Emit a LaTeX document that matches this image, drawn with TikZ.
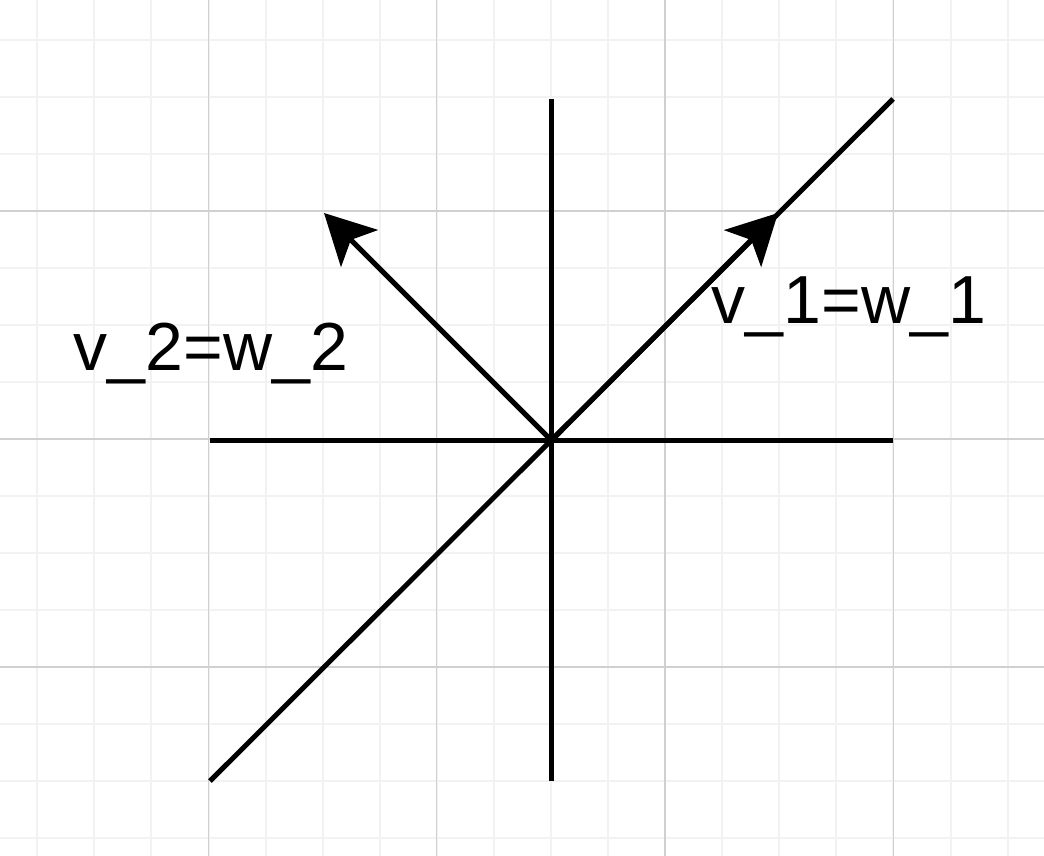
\documentclass[tikz,border=0pt]{standalone}
\usepackage{fontspec}
\setmainfont{Liberation Sans}
\usetikzlibrary{arrows.meta}
\begin{document}
\begin{tikzpicture}[x=1pt,y=-1pt,
  minorgrid/.style={draw={rgb,255:red,242;green,242;blue,242},line width=2pt},
  majorgrid/.style={draw={rgb,255:red,208;green,208;blue,208},line width=1.2pt},
  axisline/.style={draw=black,line width=5pt},
  vecarrow/.style={draw=black,line width=5pt,-{Stealth[length=50pt,width=52pt,inset=12pt]}},
  lbl/.style={font=\fontsize{68}{80}\selectfont,inner sep=0pt,anchor=base}]
\useasboundingbox (0,0) rectangle (1044,856);
\fill[white] (0,0) rectangle (1044,856);
% grid
\foreach \k in {-3,...,14} {
  \pgfmathsetmacro{\gx}{208.5+57.08*\k}
  \draw[minorgrid] (\gx,0) -- (\gx,856);
}
\foreach \k in {-3,...,11} {
  \pgfmathsetmacro{\gy}{211+57*\k}
  \draw[minorgrid] (0,\gy) -- (1044,\gy);
}
\foreach \gx in {208.5,436.8,665,893.3} \draw[majorgrid] (\gx,0) -- (\gx,856);
\foreach \gy in {211,439,667} \draw[majorgrid] (0,\gy) -- (1044,\gy);
% coordinates
\coordinate (O) at (551.5,440.5);
\coordinate (xl) at (210,440.5);
\coordinate (xr) at (893,440.5);
\coordinate (yt) at (551.5,99);
\coordinate (yb) at (551.5,781);
\coordinate (dl) at (210,781);
\coordinate (dr) at (893,99);
\coordinate (v1) at (778,213);
\coordinate (v2) at (324,213);
% axes
\draw[axisline] (xl) -- (xr);
\draw[axisline] (yt) -- (yb);
\draw[axisline] (dl) -- (dr);
% vectors
\draw[vecarrow] (O) -- (v1);
\draw[vecarrow] (O) -- (v2);
% labels
\node[lbl] (l2) at (211,370) {v\_2=w\_2};
\node[lbl] (l1) at (849,323) {v\_1=w\_1};
\end{tikzpicture}
\end{document}
